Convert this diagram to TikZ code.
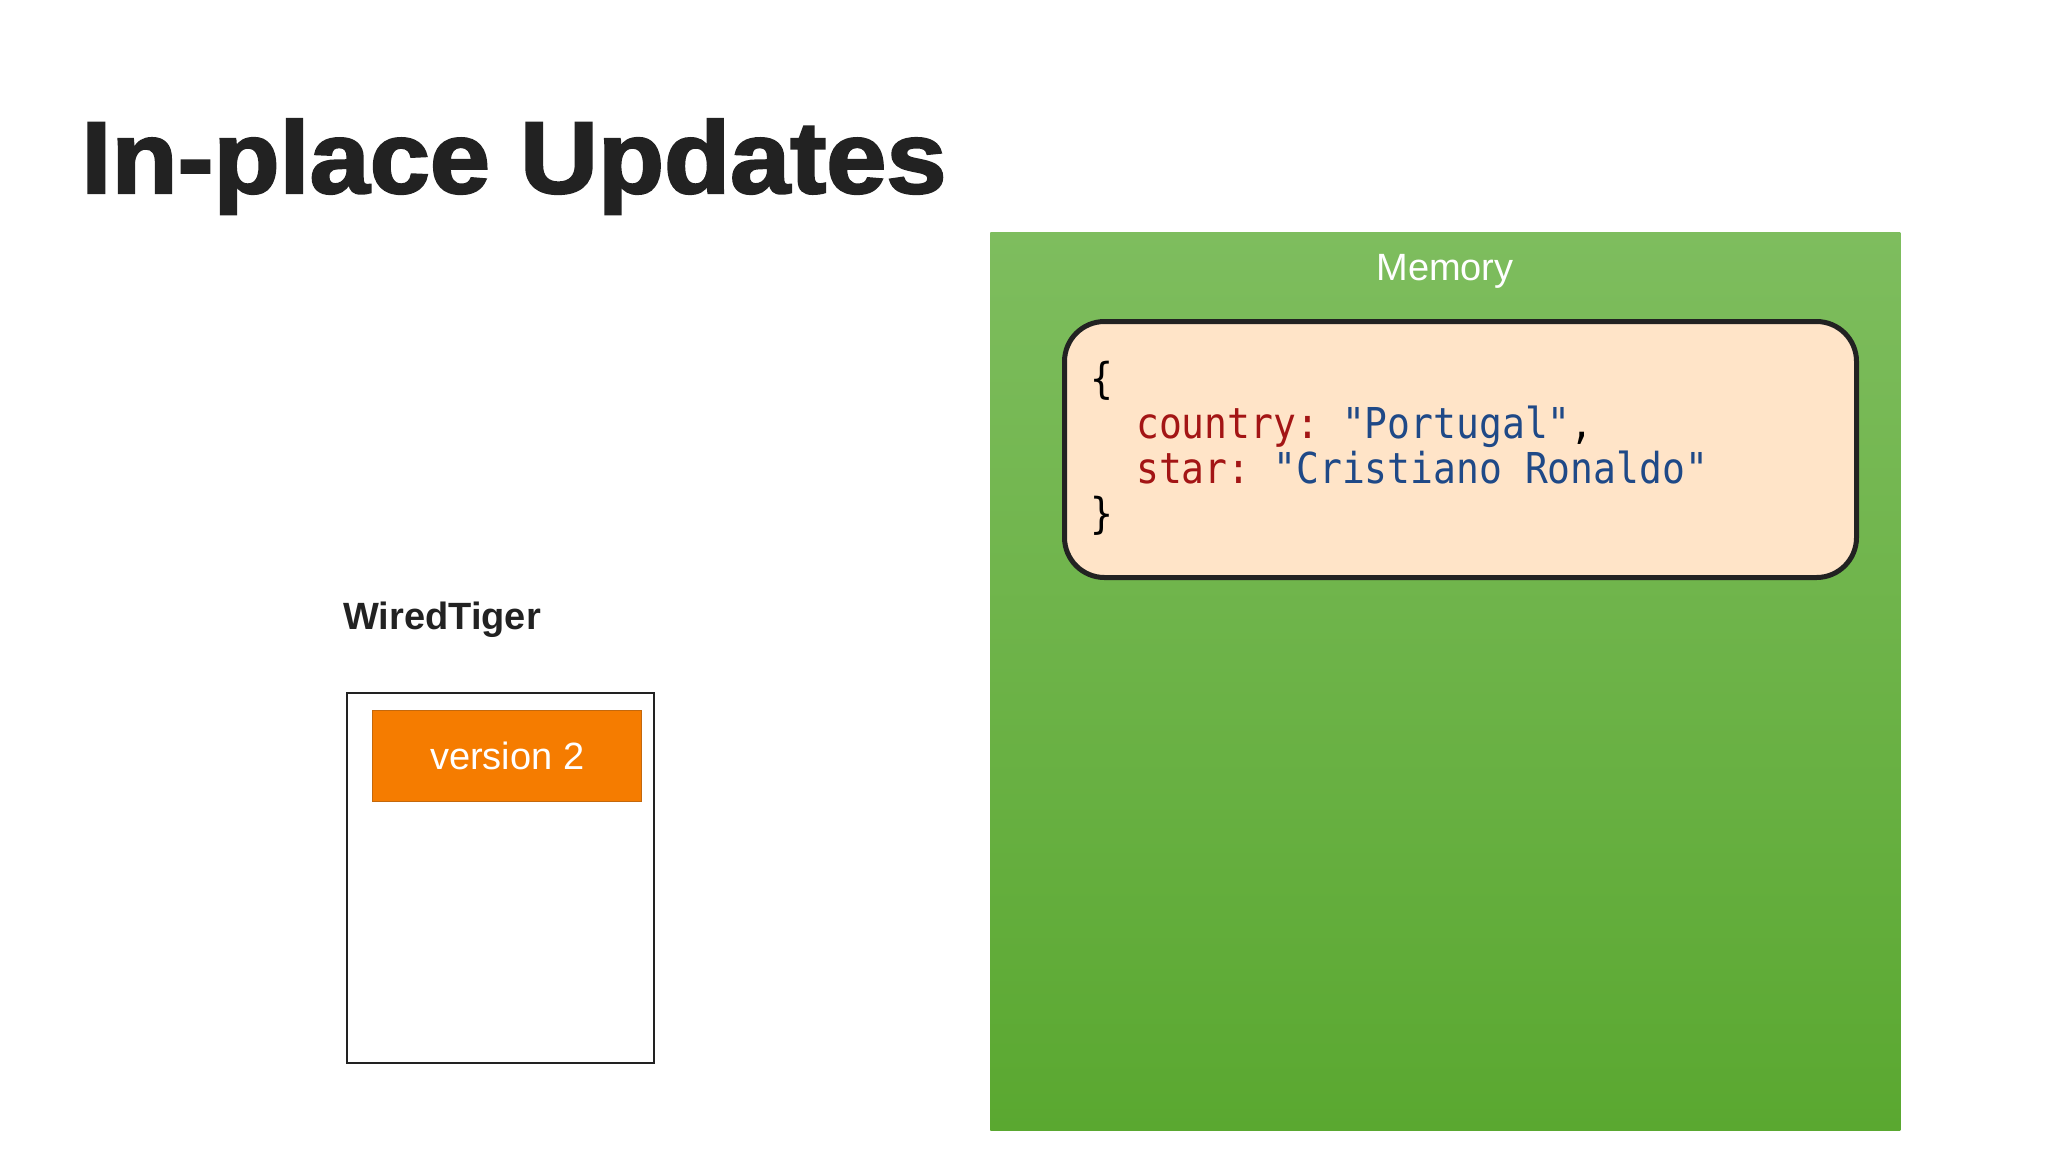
\documentclass[tikz,border=0pt]{standalone}
\usepackage{fontspec}
\setmainfont{Liberation Sans}
\setmonofont{DejaVu Sans Mono}
\newfontfamily\heavyfont{Liberation Sans Bold}[FakeBold=2.2]
\usetikzlibrary{positioning}
\definecolor{inkgray}{RGB}{34,34,34}
\definecolor{memtop}{RGB}{126,189,94}
\definecolor{membot}{RGB}{90,168,48}
\definecolor{docfill}{RGB}{255,228,200}
\definecolor{keyred}{RGB}{163,21,21}
\definecolor{strblue}{RGB}{31,73,135}
\definecolor{verorange}{RGB}{245,124,0}
\definecolor{verborder}{RGB}{196,104,12}
\tikzstyle{membox} = [rectangle, anchor=north west, minimum width=455pt, minimum height=449pt, top color=memtop, bottom color=membot, draw=none]
\tikzstyle{docbox} = [rectangle, anchor=north west, minimum width=396pt, minimum height=128pt, rounded corners=20pt, fill=docfill, draw=inkgray, line width=2.5pt]
\tikzstyle{pagebox} = [rectangle, anchor=north west, minimum width=153.5pt, minimum height=185pt, draw=inkgray, line width=1pt, fill=white]
\tikzstyle{verbox} = [rectangle, minimum width=134.5pt, minimum height=45.5pt, fill=verorange, draw=verborder, line width=0.7pt, text=white, font=\fontsize{19pt}{22pt}\selectfont]
\tikzstyle{codeline} = [anchor=base west, inner sep=0pt, yscale=1.12, font=\ttfamily\fontsize{19pt}{22pt}\selectfont]

\begin{document}
\begin{tikzpicture}[x=0.5pt, y=-0.5pt]
            \useasboundingbox (0,0) rectangle (2048,1152);

            % Title
            \node(title) [anchor=base west, inner sep=0pt, xscale=1.06, text=inkgray, font=\heavyfont\fontsize{51pt}{60pt}\selectfont] at (81,193) {In-place Updates};

            % Memory area
            \node(mem) [membox] at (990,232) {};
            \node(memlabel) [anchor=base, inner sep=0pt, text=white, font=\fontsize{19pt}{22pt}\selectfont] at (1445,280) {Memory};

            % Document in memory
            \node(doc) [docbox] at (1062,319) {};
            \node(open) [codeline] at (1090,393) {\{};
            \node(country) [codeline] at (1090,438) {\ \ \textcolor{keyred}{country:} \textcolor{strblue}{"Portugal"},};
            \node(star) [codeline] at (1090,483) {\ \ \textcolor{keyred}{star:} \textcolor{strblue}{"Cristiano Ronaldo"}};
            \node(close) [codeline] at (1090,528) {\}};

            % WiredTiger storage
            \node(wtlabel) [anchor=base west, inner sep=0pt, text=inkgray, font=\bfseries\fontsize{19pt}{22pt}\selectfont] at (343,629) {WiredTiger};
            \node(page) [pagebox] at (346,692) {};
            \node(version) [verbox, anchor=north west] at (372,710) {version 2};

        \end{tikzpicture}
\end{document}
